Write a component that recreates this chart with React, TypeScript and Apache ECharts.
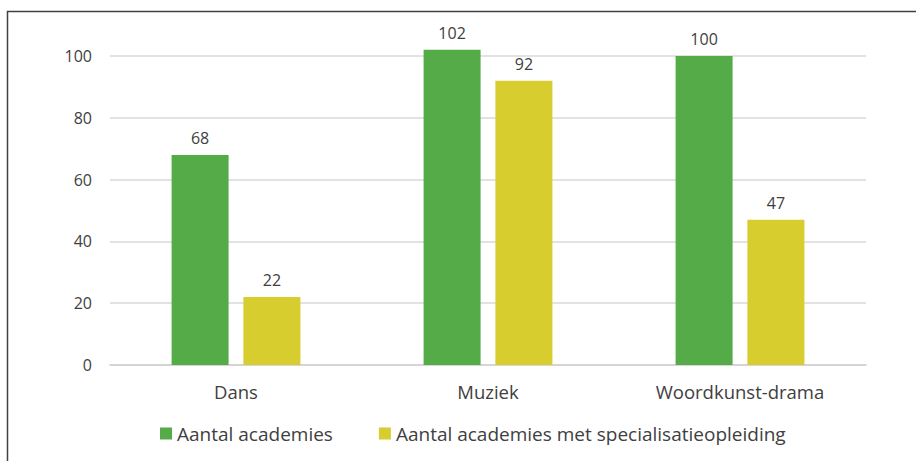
import React, { useEffect, useRef } from "react";
import * as echarts from "echarts";

const categories = ["Dans", "Muziek", "Woordkunst-drama"];
const seriesNames = ["Aantal academies", "Aantal academies met specialisatieopleiding"];
const academies = [68, 102, 100];
const specialisatie = [22, 92, 47];
const colors = ["#54AB48", "#D7CD2F"];

export default function App() {
  const ref = useRef<HTMLDivElement>(null);
  useEffect(() => {
    const chart = echarts.init(ref.current!, null, { renderer: "svg" });
    const font = "'Open Sans', sans-serif";
    const textColor = "#404040";
    chart.setOption({
      animation: false,
      textStyle: { fontFamily: font },
      graphic: [
        {
          type: "rect",
          shape: { x: 7.5, y: 11.5, width: 920, height: 470 },
          style: { fill: "none", stroke: "#404040", lineWidth: 1.5 },
          silent: true,
        },
      ],
      grid: { left: 110, right: 50, top: 56, bottom: 96 },
      legend: {
        bottom: 13,
        left: 155,
        itemWidth: 12,
        itemHeight: 12,
        itemGap: 46,
        icon: "rect",
        textStyle: { fontFamily: font, fontSize: 19, color: textColor },
        data: seriesNames,
      },
      xAxis: {
        type: "category",
        data: categories,
        axisTick: { show: false },
        axisLine: { lineStyle: { color: "#d0d0d0", width: 1.5 } },
        axisLabel: { color: textColor, fontSize: 18.5, margin: 17, fontFamily: font },
      },
      yAxis: {
        type: "value",
        min: 0,
        max: 100,
        interval: 20,
        axisLine: { show: false },
        axisTick: { show: false },
        splitLine: { lineStyle: { color: "#d9d9d9", width: 1.5 } },
        axisLabel: { color: textColor, fontSize: 16, margin: 18, fontFamily: font },
      },
      series: [
        {
          name: seriesNames[0],
          type: "bar",
          data: academies,
          clip: false,
          barWidth: 57,
          barGap: "26%",
          itemStyle: { color: colors[0] },
          label: { show: true, position: "top", color: textColor, fontSize: 16, distance: 9, fontFamily: font },
        },
        {
          name: seriesNames[1],
          type: "bar",
          data: specialisatie,
          clip: false,
          barWidth: 57,
          itemStyle: { color: colors[1] },
          label: { show: true, position: "top", color: textColor, fontSize: 16, distance: 9, fontFamily: font },
        },
      ],
    });
    return () => chart.dispose();
  }, []);
  return <div ref={ref} style={{ width: 916, height: 461, position: "absolute", left: 0, top: 0 }} />;
}
